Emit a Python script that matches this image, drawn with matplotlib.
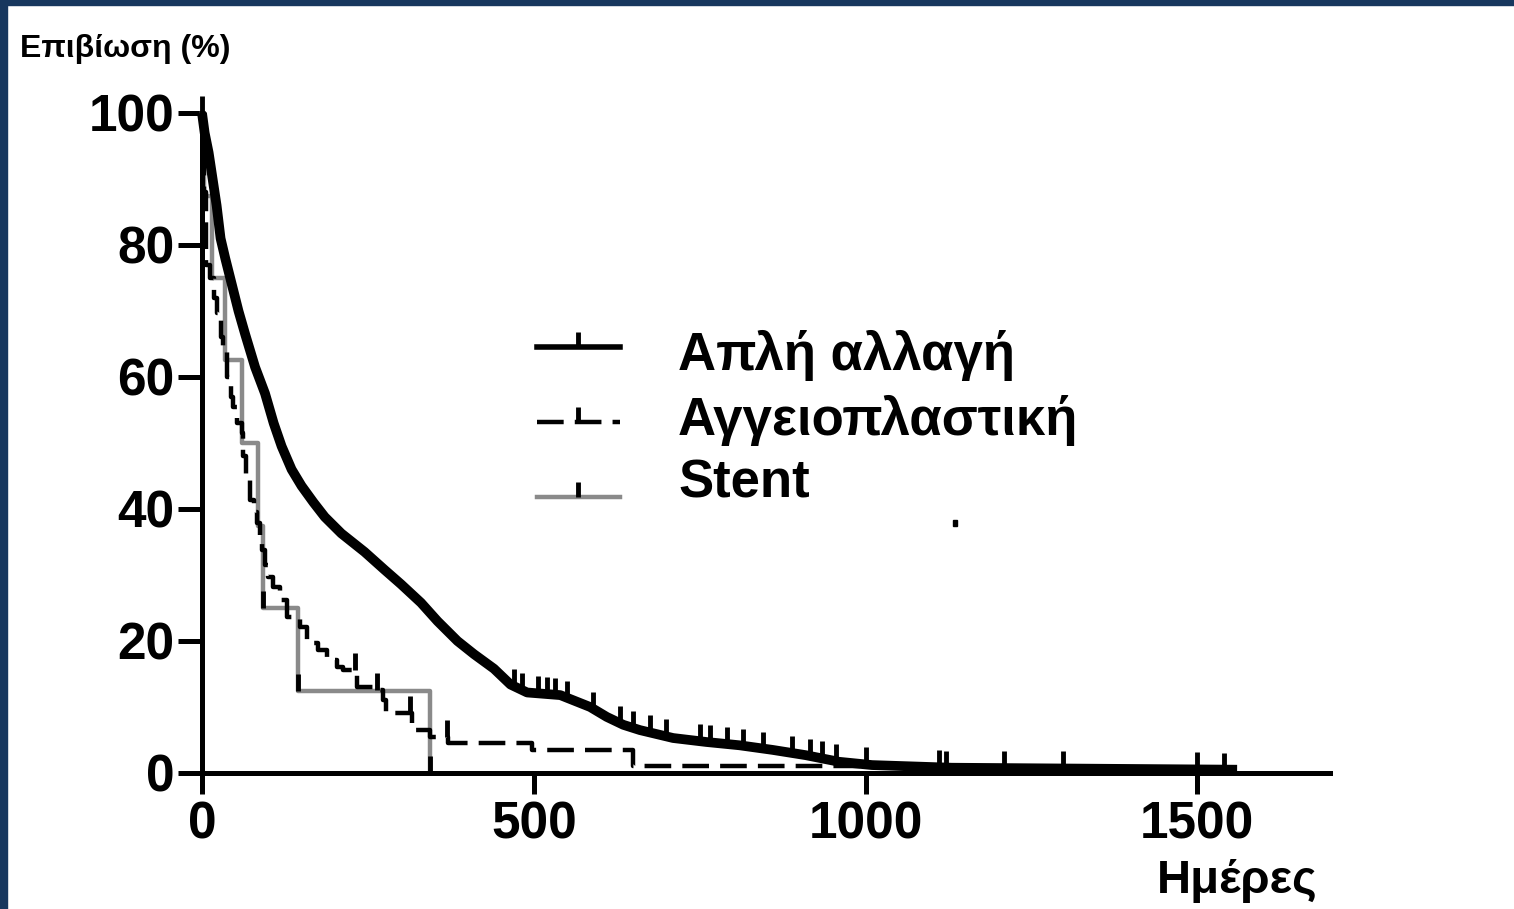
"""Kaplan-Meier style survival curves for three treatment groups."""

import matplotlib

matplotlib.use("Agg")

import matplotlib.pyplot as plt
import numpy as np
from matplotlib.lines import Line2D
from matplotlib.patches import Rectangle

# Data
solid_label = "Απλή αλλαγή"
solid_days = [0, 4, 10, 16, 22, 28, 35, 45, 55, 65, 80, 95, 108, 120, 135, 150,
              168, 185, 210, 245, 275, 300, 330, 355, 385, 410, 440, 465, 490,
              540, 560, 585, 610, 635, 660, 710, 760, 810, 860, 910, 960, 1010,
              1130, 1560]
solid_surv = [100, 97, 94, 90, 86, 81, 78, 74, 70, 66.5, 61.5, 57.5, 53, 49.5,
              46, 43.5, 41, 38.8, 36.3, 33.5, 30.8, 28.6, 25.8, 23, 20, 18,
              15.8, 13.4, 12.2, 11.8, 11, 10, 8.5, 7.3, 6.5, 5.3, 4.7, 4.2, 3.5,
              2.7, 1.7, 1.2, 0.8, 0.5]
solid_censored = [470, 483, 506, 520, 532, 550, 590, 630, 650, 675, 700, 750,
                  765, 791, 815, 845, 889, 916, 935, 956, 1001, 1111, 1122,
                  1209, 1297, 1500, 1541]

dashed_label = "Αγγειοπλαστική"
dashed_days = [0, 3, 6, 12, 18, 23, 28, 32, 38, 43, 47, 53, 60, 62, 67, 72, 78,
               83, 87, 90, 95, 99, 107, 117, 128, 148, 158, 175, 188, 203, 212,
               233, 258, 273, 278, 316, 343, 370, 498, 649, 1000]
dashed_surv = [100, 88, 77, 75, 72, 69.7, 66, 64.5, 60, 57, 55.5, 53, 51.5, 48,
               45, 41.4, 39.5, 37.9, 35.5, 33.8, 31.5, 29.7, 28.2, 26.2, 23.6,
               22.1, 19.7, 18.6, 17.1, 16.1, 15.6, 13.0, 12.6, 11.1, 9.1, 6.5,
               5.5, 4.5, 3.5, 1.1, 1.1]
dashed_censored = [230, 263, 313, 369]

stent_label = "Stent"
stent_days = [0, 3, 15, 35, 60, 84, 92, 145, 343]
stent_surv = [100, 87.5, 75, 62.5, 50, 37.5, 25, 12.5, 0]
stent_censored = [0, 92, 145, 343]

x_ticks = [0, 500, 1000, 1500]
y_ticks = [0, 20, 40, 60, 80, 100]

FONT = ["Liberation Sans", "DejaVu Sans"]
W, H = 1514, 909
NAVY = "#17375e"
GREY = "#8a8a8a"


def value_at(days, surv, t, steps=True):
    """Value of a survival curve at time t (step or linear)."""
    if not steps:
        return float(np.interp(t, days, surv))
    idx = np.searchsorted(days, t, side="right") - 1
    return surv[max(idx, 0)]


def fx(px):
    return px / W


def fy(py):
    return 1 - py / H


plt.rcParams["font.family"] = FONT
plt.rcParams["font.weight"] = "bold"

fig = plt.figure(figsize=(W / 100, H / 100), dpi=100)
fig.patch.set_facecolor("white")

# navy frame bits at top and left of the slide
fig.add_artist(Rectangle((0, fy(5)), 1, 5 / H, transform=fig.transFigure,
                         color=NAVY, zorder=10))
fig.add_artist(Rectangle((0, 0), 7 / W, 1, transform=fig.transFigure,
                         color=NAVY, zorder=10))

ax = fig.add_axes([fx(202), fy(773), fx(1330) - fx(202), fy(113) - fy(773)])

ax.plot(stent_days, stent_surv, drawstyle="steps-post", color=GREY, lw=3.2,
        clip_on=False, zorder=2)
ax.plot(dashed_days, dashed_surv, drawstyle="steps-post", color="black",
        lw=3.2, dashes=(6, 2.5), clip_on=False, zorder=3)
# the big group has so many small steps that it reads as a thick smooth band
ax.plot(solid_days, solid_surv, color="black", lw=7, solid_joinstyle="round",
        solid_capstyle="butt", clip_on=False, zorder=4)

# censor ticks
for days, surv, cens, steps in [(solid_days, solid_surv, solid_censored, False),
                                (dashed_days, dashed_surv, dashed_censored, True),
                                (stent_days, stent_surv, stent_censored, True)]:
    ys = [value_at(days, surv, t, steps) for t in cens]
    ax.plot(cens, ys, ls="none", marker=2, ms=12, mew=3.5, color="black",
            clip_on=False, zorder=5)

ax.set_xlim(0, 1700)
ax.set_ylim(0, 100)
ax.set_xticks(x_ticks)
ax.set_yticks(y_ticks)
ax.set_xticklabels([str(v) for v in x_ticks], fontsize=37, fontweight="bold")
ax.set_yticklabels([str(v) for v in y_ticks], fontsize=37, fontweight="bold")
ax.tick_params(axis="y", length=17, width=3.6, pad=3)
ax.tick_params(axis="x", length=15, width=3.6, pad=5)
for side in ["top", "right"]:
    ax.spines[side].set_visible(False)
for side in ["left", "bottom"]:
    ax.spines[side].set_linewidth(3.6)
ax.set_facecolor("none")

# legend drawn by hand to sit where the original one is
legend_rows = [
    (solid_label, 347, 370, dict(color="black", lw=4)),
    (dashed_label, 422, 435, dict(color="black", lw=3.2, dashes=(6, 2.5))),
    (stent_label, 497, 497, dict(color=GREY, lw=3.2)),
]
for label, line_y, text_y, style in legend_rows:
    fig.add_artist(Line2D([fx(537), fx(620)], [fy(line_y), fy(line_y)],
                          transform=fig.transFigure, **style))
    fig.add_artist(Line2D([fx(578)], [fy(line_y)], transform=fig.transFigure,
                          ls="none", marker=2, ms=11, mew=3.5, color="black"))
    fig.text(fx(678), fy(text_y), label, fontsize=38, fontweight="bold",
             ha="left", va="baseline")

# stray dot in the original
fig.add_artist(Rectangle((fx(953), fy(526)), 4 / W, 6 / H,
                         transform=fig.transFigure, color="black"))

fig.text(fx(20), fy(57), "Επιβίωση (%)", fontsize=23, fontweight="bold",
         ha="left", va="baseline")
fig.text(fx(1318), fy(893), "Ημέρες", fontsize=34, fontweight="bold",
         ha="right", va="baseline")

fig.savefig("out.png", dpi=100)
